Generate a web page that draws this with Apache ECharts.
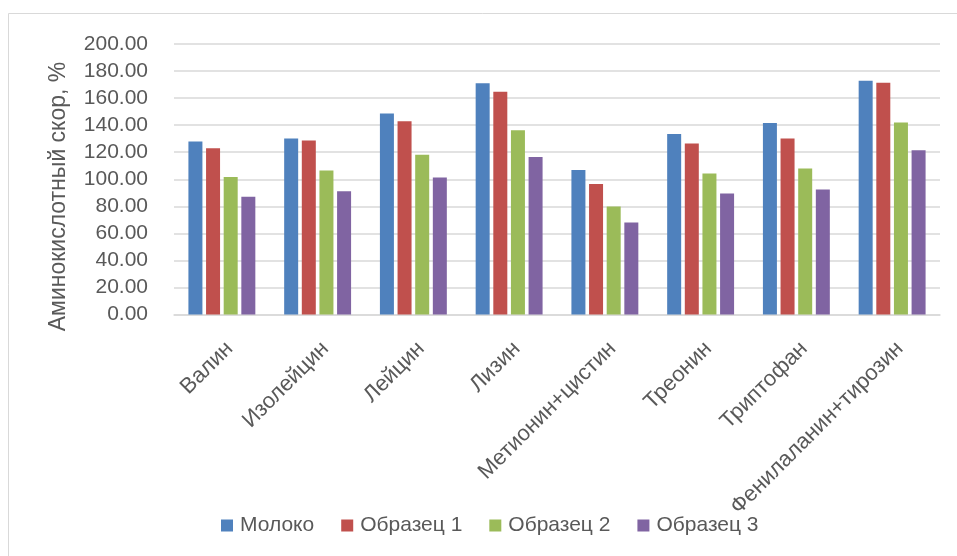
<!DOCTYPE html>
<html>
<head>
<meta charset="utf-8">
<script src="https://cdn.jsdelivr.net/npm/echarts@6/dist/echarts.min.js"></script>
<style>
html,body{margin:0;padding:0;background:#fff;}
#chart{width:957px;height:556px;}
</style>
</head>
<body>
<div id="chart"></div>
<script>
const categories = ['Валин','Изолейцин','Лейцин','Лизин','Метионин+цистин','Треонин','Триптофан','Фенилаланин+тирозин'];
const seriesNames = ['Молоко','Образец 1','Образец 2','Образец 3'];
const moloko   = [128.0, 130.2, 148.7, 170.9, 106.8, 133.4, 141.5, 172.8];
const obrazec1 = [123.0, 128.7, 142.8, 164.7, 96.4, 126.5, 130.2, 171.4];
const obrazec2 = [101.6, 106.5, 118.1, 136.3, 79.9, 104.3, 108.0, 142.0];
const obrazec3 = [87.0, 91.2, 101.3, 116.4, 68.0, 89.5, 92.5, 121.5];
const yTicks = [0, 20, 40, 60, 80, 100, 120, 140, 160, 180, 200];
const yTitle = 'Аминокислотный скор, %';

const colors = ['#4F81BD','#C0504D','#9BBB59','#8064A2'];
const values = [moloko, obrazec1, obrazec2, obrazec3];
const FONT = 'Liberation Sans, Arial, sans-serif';
const TXT = '#595959';

const chart = echarts.init(document.getElementById('chart'), null, {renderer:'canvas'});
chart.setOption({
  animation: false,
  backgroundColor: '#ffffff',
  color: colors,
  textStyle: {fontFamily: FONT},
  grid: {left: 174, right: 17, top: 44, bottom: 241.5, containLabel: false},
  graphic: [
    {type:'polyline', shape:{points:[[8.5,556],[8.5,13.5],[957,13.5]]}, style:{stroke:'#d9d9d9', lineWidth:1, fill:null}, silent:true},
    {type:'text', x:59, y:196.5, rotation:Math.PI/2, style:{text:yTitle, font:'23px '+FONT, fill:TXT, textAlign:'center', textVerticalAlign:'middle'}, silent:true}
  ],
  legend: {
    data: seriesNames,
    left: 216, top: 510,
    itemWidth: 12, itemHeight: 12, itemGap: 27,
    icon: 'rect',
    textStyle: {fontSize: 21, color: TXT, fontFamily: FONT, padding:[0,0,0,2]}
  },
  xAxis: {
    type: 'category',
    data: categories,
    axisLine: {lineStyle: {color: '#d9d9d9', width: 1.5}},
    axisTick: {show: false},
    axisLabel: {
      rotate: 45, interval: 0, margin: 23,
      align: 'right', verticalAlign: 'top',
      fontSize: 22, color: TXT, fontFamily: FONT
    }
  },
  yAxis: {
    type: 'value',
    min: yTicks[0], max: yTicks[yTicks.length-1], interval: 20,
    axisLine: {show: false},
    axisTick: {show: false},
    splitLine: {lineStyle: {color: '#d9d9d9', width: 1.5}},
    axisLabel: {
      margin: 26, fontSize: 21, color: TXT, fontFamily: FONT,
      formatter: v => v.toFixed(2)
    }
  },
  series: seriesNames.map((n, i) => ({
    name: n, type: 'bar', data: values[i],
    barWidth: 14, barGap: '26%',
    itemStyle: {color: colors[i]}
  }))
});
</script>
</body>
</html>
